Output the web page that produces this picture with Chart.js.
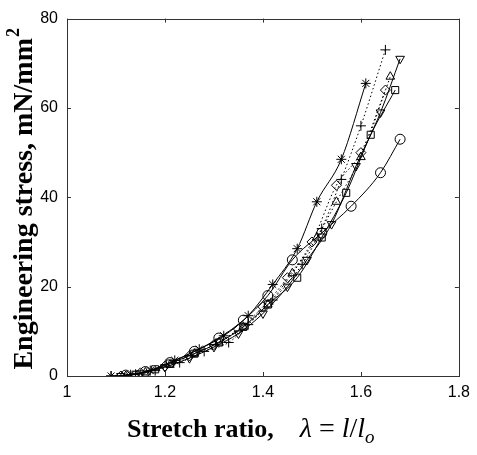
<!DOCTYPE html>
<html>
<head>
<meta charset="utf-8">
<script src="https://cdn.jsdelivr.net/npm/chart.js@4/dist/chart.umd.min.js"></script>
<style>
html,body{margin:0;padding:0;background:#fff;}
#wrap{width:477px;height:455px;position:relative;}
</style>
</head>
<body>
<div id="wrap"><canvas id="c" width="477" height="455"></canvas></div>
<script>
// ---- Data ----
const xTicks = [1, 1.2, 1.4, 1.6, 1.8];
const yTicks = [0, 20, 40, 60, 80];

const starX = [1.09,1.13,1.17,1.22,1.27,1.32,1.37,1.42,1.47,1.51,1.56,1.61];
const starY = [0,0.3,1.2,3.5,6,9,13.5,20.5,28.5,39,48.5,65.5];

const plusX = [1.09,1.14,1.18,1.23,1.28,1.33,1.37,1.42,1.48,1.52,1.56,1.60,1.65];
const plusY = [0,0.4,1.2,3,5.5,7.5,11.5,17,25,33,44,56,73];

const triDownX = [1.11,1.15,1.20,1.25,1.30,1.35,1.40,1.45,1.49,1.54,1.59,1.64,1.68];
const triDownY = [0,0.6,2,4,6.5,9.5,14,20,26,34,47,59,71];

const triUpX = [1.12,1.16,1.21,1.26,1.31,1.36,1.41,1.46,1.51,1.55,1.60,1.66];
const triUpY = [0,0.8,2.5,5,7.5,11,16,23,31,39,49,67];

const diamondX = [1.11,1.15,1.20,1.25,1.30,1.35,1.40,1.45,1.50,1.55,1.60,1.65];
const diamondY = [0,0.7,2.2,4.5,7,10.5,15.5,22,30,42.7,50,64];

const squareX = [1.14,1.18,1.21,1.26,1.31,1.36,1.41,1.47,1.52,1.57,1.62,1.67];
const squareY = [0.3,1.5,2.8,5,7.5,11,16,22,31,41,54,64];

const circleX = [1.12,1.16,1.21,1.26,1.31,1.36,1.41,1.46,1.52,1.58,1.64,1.68];
const circleY = [0.2,1,3,5.5,8.5,12.5,18,26,32,38,45.5,53];

function pts(xs, ys){ return xs.map((x,i)=>({x:x, y:ys[i]})); }

function ds(label, xs, ys, style, dashed, rot){
  return {
    label: label,
    data: pts(xs, ys),
    borderColor: '#000',
    backgroundColor: 'rgba(0,0,0,0)',
    borderWidth: 1,
    borderDash: dashed ? [1.5, 2.5] : [],
    pointStyle: style,
    pointRotation: rot || 0,
    pointRadius: 5,
    pointBorderColor: '#000',
    pointBackgroundColor: 'rgba(0,0,0,0)',
    pointBorderWidth: 1,
    cubicInterpolationMode: 'monotone',
    showLine: true,
    fill: false
  };
}

const PLOT_LEFT = 67, PLOT_BOTTOM_GAP = 79;

const framePlugin = {
  id: 'frame',
  afterDraw(chart){
    const ctx = chart.ctx, a = chart.chartArea;
    const xs = chart.scales.x, ys = chart.scales.y;
    ctx.save();
    ctx.strokeStyle = '#333';
    ctx.lineWidth = 1;
    ctx.strokeRect(Math.round(a.left)+0.5, Math.round(a.top)+0.5, Math.round(a.right-a.left), Math.round(a.bottom-a.top));
    const L = 4;
    ctx.beginPath();
    xTicks.forEach(v=>{
      const px = Math.round(xs.getPixelForValue(v))+0.5;
      ctx.moveTo(px, a.bottom); ctx.lineTo(px, a.bottom-L);
      ctx.moveTo(px, a.top); ctx.lineTo(px, a.top+L);
    });
    yTicks.forEach(v=>{
      const py = Math.round(ys.getPixelForValue(v))+0.5;
      ctx.moveTo(a.left, py); ctx.lineTo(a.left+L, py);
      ctx.moveTo(a.right, py); ctx.lineTo(a.right-L, py);
    });
    ctx.stroke();

    // Axis titles
    ctx.fillStyle = '#000';
    // Y title
    ctx.save();
    ctx.translate(25, (a.top+a.bottom)/2 + 2);
    ctx.rotate(-Math.PI/2);
    const fMain = 'bold 28px "Liberation Serif", "Times New Roman", serif';
    const fSup = 'bold 18px "Liberation Serif", "Times New Roman", serif';
    const main = 'Engineering stress, mN/mm';
    ctx.font = fMain;
    const wMain = ctx.measureText(main).width;
    ctx.font = fSup;
    const wSup = ctx.measureText('2').width;
    const total = wMain + wSup;
    ctx.textBaseline = 'middle';
    ctx.textAlign = 'left';
    ctx.font = fMain;
    ctx.fillText(main, -total/2, 0);
    ctx.font = fSup;
    ctx.fillText('2', -total/2 + wMain + 1, -11);
    ctx.restore();

    // X title
    const base = 437;
    const parts = [
      {t:'Stretch ratio,', f:'bold 26px "Liberation Serif", serif', dy:0},
      {t:'\u2003', f:'26px "Liberation Serif", serif', dy:0},
      {t:'\u03BB', f:'italic 28px "Liberation Serif", serif', dy:0},
      {t:' = ', f:'28px "Liberation Serif", serif', dy:0},
      {t:'l', f:'italic 28px "Liberation Serif", serif', dy:0},
      {t:'/', f:'28px "Liberation Serif", serif', dy:0},
      {t:'l', f:'italic 28px "Liberation Serif", serif', dy:0},
      {t:'o', f:'italic 19px "Liberation Serif", serif', dy:6}
    ];
    let x = 127;
    ctx.textBaseline = 'alphabetic';
    ctx.textAlign = 'left';
    parts.forEach(p=>{
      ctx.font = p.f;
      ctx.fillText(p.t, x, base + p.dy);
      x += ctx.measureText(p.t).width;
    });
    ctx.restore();
  }
};

new Chart(document.getElementById('c'), {
  type: 'scatter',
  data: {
    datasets: [
      ds('star', starX, starY, 'star', false),
      ds('plus', plusX, plusY, 'cross', true),
      ds('triDown', triDownX, triDownY, 'triangle', false, 180),
      ds('triUp', triUpX, triUpY, 'triangle', true),
      ds('diamond', diamondX, diamondY, 'rectRot', true),
      ds('square', squareX, squareY, 'rect', false),
      ds('circle', circleX, circleY, 'circle', false)
    ]
  },
  options: {
    responsive: false,
    animation: false,
    devicePixelRatio: 1,
    layout: { padding: { top: 18, right: 15, left: 0, bottom: 0 } },
    plugins: { legend: { display: false }, tooltip: { enabled: false } },
    scales: {
      x: {
        type: 'linear', min: 1, max: 1.8,
        afterBuildTicks(s){ s.ticks = xTicks.map(v=>({value:v})); },
        afterFit(s){ s.height = PLOT_BOTTOM_GAP; },
        grid: { display: false, drawTicks: false },
        border: { display: false },
        ticks: {
          color: '#000', padding: 7,
          font: { family: '"Liberation Sans", Arial, sans-serif', size: 16 },
          callback: v => String(Math.round(v*10)/10)
        }
      },
      y: {
        type: 'linear', min: 0, max: 80,
        afterBuildTicks(s){ s.ticks = yTicks.map(v=>({value:v})); },
        afterFit(s){ s.width = PLOT_LEFT; },
        grid: { display: false, drawTicks: false },
        border: { display: false },
        ticks: {
          color: '#000', padding: 9,
          font: { family: '"Liberation Sans", Arial, sans-serif', size: 16 },
          callback: v => String(v)
        }
      }
    }
  },
  plugins: [framePlugin]
});
</script>
</body>
</html>
